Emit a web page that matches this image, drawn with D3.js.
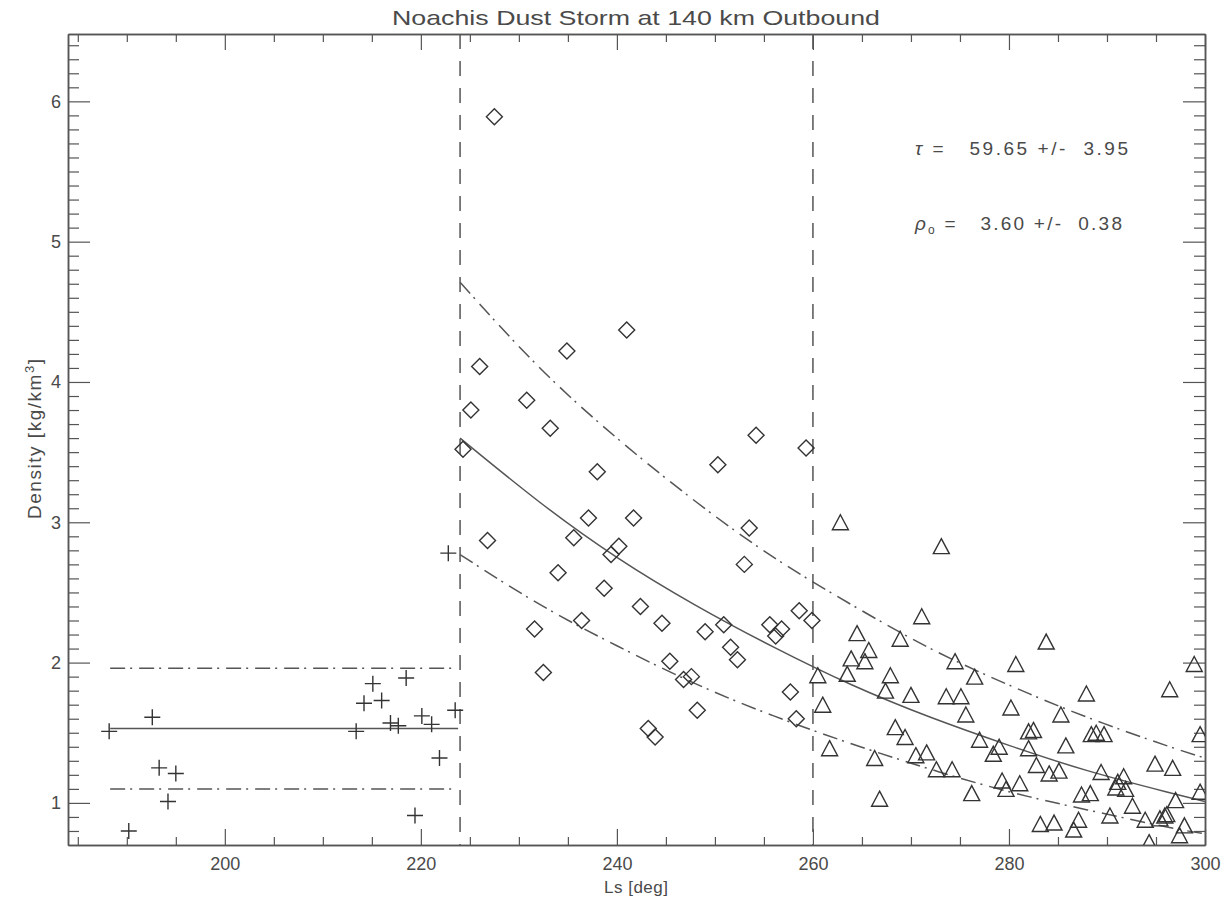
<!DOCTYPE html>
<html lang="en">
<head>
<meta charset="UTF-8">
<title>Noachis Dust Storm</title>
<script src="https://d3js.org/d3.v7.min.js"></script>
<style>
  body { margin: 0; background: #fff; }
  text { font-family: "Liberation Sans", Arial, sans-serif; fill: #4a4a4a; }
</style>
</head>
<body>
<script>
const width = 1225, height = 902;
const plotLeft = 68, plotRight = 1205, plotTop = 34, plotBottom = 845;

// pre-storm points (plus)
const plusLs  = [188.2, 192.6, 193.3, 195.0, 194.2, 190.2, 213.4, 214.2, 215.1, 216.0, 216.9, 217.7, 218.5, 220.1, 221.1, 221.9, 219.4, 223.5, 222.8];
const plusRho = [1.51, 1.61, 1.25, 1.21, 1.01, 0.80, 1.51, 1.71, 1.85, 1.73, 1.57, 1.55, 1.89, 1.62, 1.56, 1.32, 0.91, 1.66, 2.78];

// storm points 224-260 (diamond)
const diamondLs  = [227.5, 241.0, 234.9, 226.0, 225.1, 230.8, 233.2, 224.3, 238.0, 250.3, 254.2, 259.3, 237.1, 241.7, 253.5, 226.8,
                    235.6, 240.2, 239.4, 253.0, 234.0, 238.7, 231.6, 236.4, 242.4, 244.6, 249.0, 250.9, 258.6, 259.9, 255.6, 256.8,
                    256.2, 251.6, 252.3, 232.5, 245.4, 246.8, 247.6, 248.2, 257.7, 258.3, 243.2, 243.9];
const diamondRho = [5.89, 4.37, 4.22, 4.11, 3.80, 3.87, 3.67, 3.52, 3.36, 3.41, 3.62, 3.53, 3.03, 3.03, 2.96, 2.87,
                    2.89, 2.83, 2.77, 2.70, 2.64, 2.53, 2.24, 2.30, 2.40, 2.28, 2.22, 2.27, 2.37, 2.30, 2.27, 2.24,
                    2.19, 2.11, 2.02, 1.93, 2.01, 1.88, 1.90, 1.66, 1.79, 1.60, 1.53, 1.47];

// decay points after 260 (triangle)
const triLs  = [262.8, 273.1, 271.1, 264.5, 268.9, 265.7, 263.9, 265.3, 260.5, 263.5, 267.9, 274.5, 276.5, 267.4, 270.0, 273.6,
                275.1, 261.0, 275.6, 268.4, 269.4, 261.7, 266.3, 270.5, 271.6, 272.6, 274.2, 277.0, 279.0, 278.4, 279.3, 276.2,
                266.8, 279.7, 283.8, 280.7, 298.9, 296.4, 287.9, 280.2, 285.3, 299.5, 282.0, 282.5, 288.4, 288.9, 289.7, 285.8,
                282.0, 282.8, 284.1, 285.1, 289.4, 291.7, 290.9, 291.1, 294.9, 296.7, 297.0, 299.5, 287.4, 288.3, 281.1, 291.9,
                292.6, 293.9, 290.3, 295.4, 295.9, 296.1, 297.9, 297.4, 283.2, 284.6, 286.6, 287.1, 294.3];
const triRho = [3.00, 2.83, 2.33, 2.21, 2.17, 2.09, 2.03, 2.01, 1.91, 1.92, 1.91, 2.01, 1.90, 1.80, 1.77, 1.76,
                1.76, 1.70, 1.63, 1.54, 1.47, 1.39, 1.32, 1.34, 1.36, 1.24, 1.24, 1.45, 1.40, 1.35, 1.16, 1.07,
                1.03, 1.10, 2.15, 1.99, 1.99, 1.81, 1.78, 1.68, 1.63, 1.49, 1.51, 1.52, 1.49, 1.50, 1.49, 1.41,
                1.39, 1.27, 1.21, 1.23, 1.22, 1.19, 1.11, 1.15, 1.28, 1.25, 1.02, 1.08, 1.06, 1.07, 1.14, 1.10,
                0.98, 0.88, 0.91, 0.89, 0.91, 0.92, 0.84, 0.77, 0.85, 0.86, 0.81, 0.88, 0.72];

// pre-storm mean and band
const preLs = [188.3, 223.8];
const preMean = [1.53, 1.53];
const preUpper = [1.96, 1.96];
const preLower = [1.10, 1.10];

// exponential decay fit and band
const fitLs    = [224, 232, 240, 248, 256, 264, 272, 280, 288, 296, 300];
const fitMean  = [3.60, 3.15, 2.75, 2.41, 2.11, 1.84, 1.61, 1.41, 1.23, 1.08, 1.01];
const fitUpper = [4.71, 4.11, 3.60, 3.15, 2.75, 2.41, 2.10, 1.84, 1.61, 1.41, 1.32];
const fitLower = [2.77, 2.42, 2.12, 1.85, 1.62, 1.42, 1.24, 1.08, 0.95, 0.83, 0.78];

const phaseLines = [224, 260];

const xMajor = [200, 220, 240, 260, 280, 300];
const yMajor = [1, 2, 3, 4, 5, 6];

const x = d3.scaleLinear().domain([184, 300]).range([plotLeft, plotRight]);
const y = d3.scaleLinear().domain([0.7, 6.48]).range([plotBottom, plotTop]);

const svg = d3.select("body").append("svg")
    .attr("width", width).attr("height", height);

svg.append("clipPath").attr("id", "clip")
  .append("rect").attr("x", plotLeft).attr("y", plotTop)
  .attr("width", plotRight - plotLeft).attr("height", plotBottom - plotTop);

const axisColor = "#555";
const lineColor = "#555";
const markColor = "#333";

// axes: ticks point inward on all four sides
const xMinor = d3.range(185, 301, 5).filter(v => v % 20 != 0);
const yMinor = d3.range(8, 65).map(v => v / 10).filter(v => Math.abs(v - Math.round(v)) > 1e-6);

function drawAxis(axis, transform, labels) {
  const g = svg.append("g").attr("transform", transform).call(axis);
  g.select(".domain").attr("stroke", axisColor).attr("stroke-width", 1.5);
  g.selectAll(".tick line").attr("stroke", axisColor).attr("stroke-width", 1.2);
  g.selectAll(".tick text").attr("font-size", 18).attr("fill", "#4a4a4a")
    .attr("font-family", "Liberation Sans, Arial, sans-serif");
  if (!labels) g.selectAll(".tick text").remove();
  return g;
}

drawAxis(d3.axisBottom(x).tickValues(xMajor).tickSizeInner(-16).tickSizeOuter(0).tickPadding(12).tickFormat(d3.format("d")),
  `translate(0,${plotBottom})`, true);
drawAxis(d3.axisBottom(x).tickValues(xMinor).tickSizeInner(-8).tickSizeOuter(0), `translate(0,${plotBottom})`, false);
drawAxis(d3.axisTop(x).tickValues(xMajor).tickSizeInner(-16).tickSizeOuter(0), `translate(0,${plotTop})`, false);
drawAxis(d3.axisTop(x).tickValues(xMinor).tickSizeInner(-8).tickSizeOuter(0), `translate(0,${plotTop})`, false);

drawAxis(d3.axisLeft(y).tickValues(yMajor).tickSizeInner(-22).tickSizeOuter(0).tickPadding(7).tickFormat(d3.format("d")),
  `translate(${plotLeft},0)`, true);
drawAxis(d3.axisLeft(y).tickValues(yMinor).tickSizeInner(-11).tickSizeOuter(0), `translate(${plotLeft},0)`, false);
drawAxis(d3.axisRight(y).tickValues(yMajor).tickSizeInner(-22).tickSizeOuter(0), `translate(${plotRight},0)`, false);
drawAxis(d3.axisRight(y).tickValues(yMinor).tickSizeInner(-11).tickSizeOuter(0), `translate(${plotRight},0)`, false);

const plot = svg.append("g").attr("clip-path", "url(#clip)");

// phase boundaries
plot.selectAll(".phase").data(phaseLines).join("line")
    .attr("x1", d => x(d)).attr("x2", d => x(d))
    .attr("y1", plotTop).attr("y2", plotBottom)
    .attr("stroke", lineColor).attr("stroke-width", 1.5)
    .attr("stroke-dasharray", "15,12");

const dashDot = "15,5,2,7";

function drawLine(xs, ys, dash, curve) {
  const pts = xs.map((v, i) => [v, ys[i]]);
  plot.append("path")
    .attr("d", d3.line().x(d => x(d[0])).y(d => y(d[1])).curve(curve || d3.curveLinear)(pts))
    .attr("fill", "none").attr("stroke", lineColor).attr("stroke-width", 1.5)
    .attr("stroke-dasharray", dash || null);
}

drawLine(preLs, preMean);
drawLine(preLs, preUpper, dashDot);
drawLine(preLs, preLower, dashDot);

drawLine(fitLs, fitMean, null, d3.curveNatural);
drawLine(fitLs, fitUpper, dashDot, d3.curveNatural);
drawLine(fitLs, fitLower, dashDot, d3.curveNatural);

// markers
const plusPath = "M-8,0H8M0,-8V8";
const diamondPath = "M0,-8L8,0L0,8L-8,0Z";
const triPath = "M0,-7.5L8,7.5L-8,7.5Z";

function drawMarks(xs, ys, path) {
  plot.append("g").selectAll("path").data(xs.map((v, i) => [v, ys[i]])).join("path")
    .attr("transform", d => `translate(${x(d[0])},${y(d[1])})`)
    .attr("d", path)
    .attr("fill", "none").attr("stroke", markColor).attr("stroke-width", 1.4);
}

drawMarks(plusLs, plusRho, plusPath);
drawMarks(diamondLs, diamondRho, diamondPath);
drawMarks(triLs, triRho, triPath);

// titles
svg.append("text").attr("x", 636).attr("y", 25).attr("text-anchor", "middle")
   .attr("font-size", 21).attr("textLength", 488).attr("lengthAdjust", "spacingAndGlyphs")
   .text("Noachis Dust Storm at 140 km Outbound");

svg.append("text").attr("x", 636).attr("y", 893).attr("text-anchor", "middle")
   .attr("font-size", 17).attr("textLength", 64).attr("lengthAdjust", "spacing").text("Ls [deg]");

const yl = svg.append("text").attr("transform", "translate(41,439) rotate(-90)")
   .attr("text-anchor", "middle").attr("font-size", 19)
   .attr("textLength", 160).attr("lengthAdjust", "spacing");
yl.append("tspan").text("Density [kg/km");
yl.append("tspan").attr("font-size", 13).attr("dy", -7).text("3");
yl.append("tspan").attr("dy", 7).text("]");

// fit parameters
const t1 = svg.append("text").attr("x", 915).attr("y", 155).attr("font-size", 19)
   .attr("xml:space", "preserve").attr("textLength", 213).attr("lengthAdjust", "spacing");
t1.append("tspan").attr("font-style", "italic").text("\u03c4");
t1.append("tspan").text(" =   59.65 +/-  3.95");

const t2 = svg.append("text").attr("x", 915).attr("y", 230).attr("font-size", 19)
   .attr("xml:space", "preserve").attr("textLength", 207).attr("lengthAdjust", "spacing");
t2.append("tspan").attr("font-style", "italic").text("\u03c1");
t2.append("tspan").attr("font-size", 12).attr("dy", 4).text("o");
t2.append("tspan").attr("dy", -4).text(" =   3.60 +/-  0.38");
</script>
</body>
</html>
